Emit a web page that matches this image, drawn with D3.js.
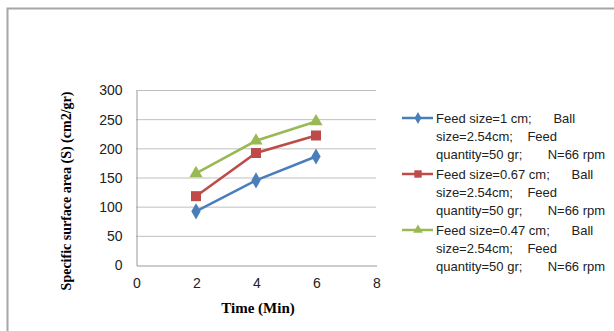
<!DOCTYPE html>
<html>
<head>
<meta charset="utf-8">
<script src="https://cdn.jsdelivr.net/npm/d3@7"></script>
<style>
  body { margin: 0; background: #fff; }
  svg { display: block; }
  .tick text { font-family: "Liberation Sans", Arial, sans-serif; font-size: 14px; fill: #222; }
  .legend text { font-family: "Liberation Sans", Arial, sans-serif; font-size: 13px; fill: #222; white-space: pre; }
  .title { font-family: "Liberation Serif", "Times New Roman", serif; font-weight: bold; fill: #000; }
</style>
</head>
<body>
<div id="chart"></div>
<script>
// data
const times = [2, 4, 6];
const feed1 = [92, 145, 186];
const feed067 = [118, 192, 222];
const feed047 = [157, 213, 246];
const xTicks = [0, 2, 4, 6, 8];
const yTicks = [0, 50, 100, 150, 200, 250, 300];
const seriesNames = [
  ["Feed size=1 cm;      Ball", "size=2.54cm;    Feed", "quantity=50 gr;       N=66 rpm"],
  ["Feed size=0.67 cm;      Ball", "size=2.54cm;    Feed", "quantity=50 gr;       N=66 rpm"],
  ["Feed size=0.47 cm;      Ball", "size=2.54cm;    Feed", "quantity=50 gr;       N=66 rpm"]
];
const colors = ["#4a7ebb", "#be4b48", "#98b954"];
const shapes = [d3.symbolDiamond, d3.symbolSquare, d3.symbolTriangle];

const W = 614, H = 331;
const margin = { top: 90, right: 238, bottom: 66, left: 136 };

const svg = d3.select("#chart").append("svg")
  .attr("width", W).attr("height", H);

// outer frame (only left and top edges are visible)
svg.append("path")
  .attr("d", `M7.5,${H} V8.5 H${W}`)
  .attr("fill", "none").attr("stroke", "#a6a6a6").attr("stroke-width", 2);

const x = d3.scaleLinear().domain([0, 8]).range([margin.left, W - margin.right]);
const y = d3.scaleLinear().domain([0, 300]).range([H - margin.bottom, margin.top]);

// gridlines
svg.append("g")
  .selectAll("line")
  .data(yTicks.slice(1))
  .join("line")
  .attr("x1", x(0)).attr("x2", x(8))
  .attr("y1", d => y(d) + 0.5).attr("y2", d => y(d) + 0.5)
  .attr("stroke", "#bfbfbf");

// axes
const yAxis = svg.append("g")
  .attr("transform", `translate(${x(0) + 0.5},0.5)`)
  .call(d3.axisLeft(y).tickValues(yTicks).tickSize(0).tickPadding(14));
yAxis.select(".domain").attr("stroke", "#999");

const xAxis = svg.append("g")
  .attr("transform", `translate(0.5,${y(0) + 0.5})`)
  .call(d3.axisBottom(x).tickValues(xTicks).tickSize(0).tickPadding(13));
xAxis.select(".domain").attr("stroke", "#999");

// axis titles
svg.append("text").attr("class", "title")
  .attr("x", (x(0) + x(8)) / 2 + 2).attr("y", 313)
  .attr("text-anchor", "middle")
  .style("font-size", "15px")
  .text("Time (Min)");

svg.append("text").attr("class", "title")
  .attr("transform", `translate(71,191) rotate(-90)`)
  .attr("text-anchor", "middle")
  .style("font-size", "14px")
  .text("Specific surface area (S) (cm2/gr)");

// series
const allSeries = [feed1, feed067, feed047];
const line = d3.line().x((d, i) => x(times[i])).y(d => y(d));

allSeries.forEach((vals, k) => {
  svg.append("path")
    .datum(vals)
    .attr("d", line)
    .attr("fill", "none")
    .attr("stroke", colors[k])
    .attr("stroke-width", 2.5);
  svg.append("g")
    .selectAll("path")
    .data(vals)
    .join("path")
    .attr("transform", (d, i) => `translate(${x(times[i])},${y(d)})`)
    .attr("d", d3.symbol().type(shapes[k]).size(k === 1 ? 100 : 75))
    .attr("fill", colors[k]);
});

// legend
const legend = svg.append("g").attr("class", "legend")
  .attr("transform", "translate(402,118)");
seriesNames.forEach((lines, k) => {
  const g = legend.append("g").attr("transform", `translate(0,${k * 56})`);
  g.append("line").attr("x1", 0).attr("x2", 31).attr("y1", 0).attr("y2", 0)
    .attr("stroke", colors[k]).attr("stroke-width", 2.5);
  g.append("path").attr("transform", "translate(16,0)")
    .attr("d", d3.symbol().type(shapes[k]).size(k === 1 ? 55 : 40))
    .attr("fill", colors[k]);
  g.selectAll("text")
    .data(lines)
    .join("text")
    .attr("x", 34)
    .attr("y", (d, i) => i * 18 + 4.5)
    .text(d => d);
});
</script>
</body>
</html>
